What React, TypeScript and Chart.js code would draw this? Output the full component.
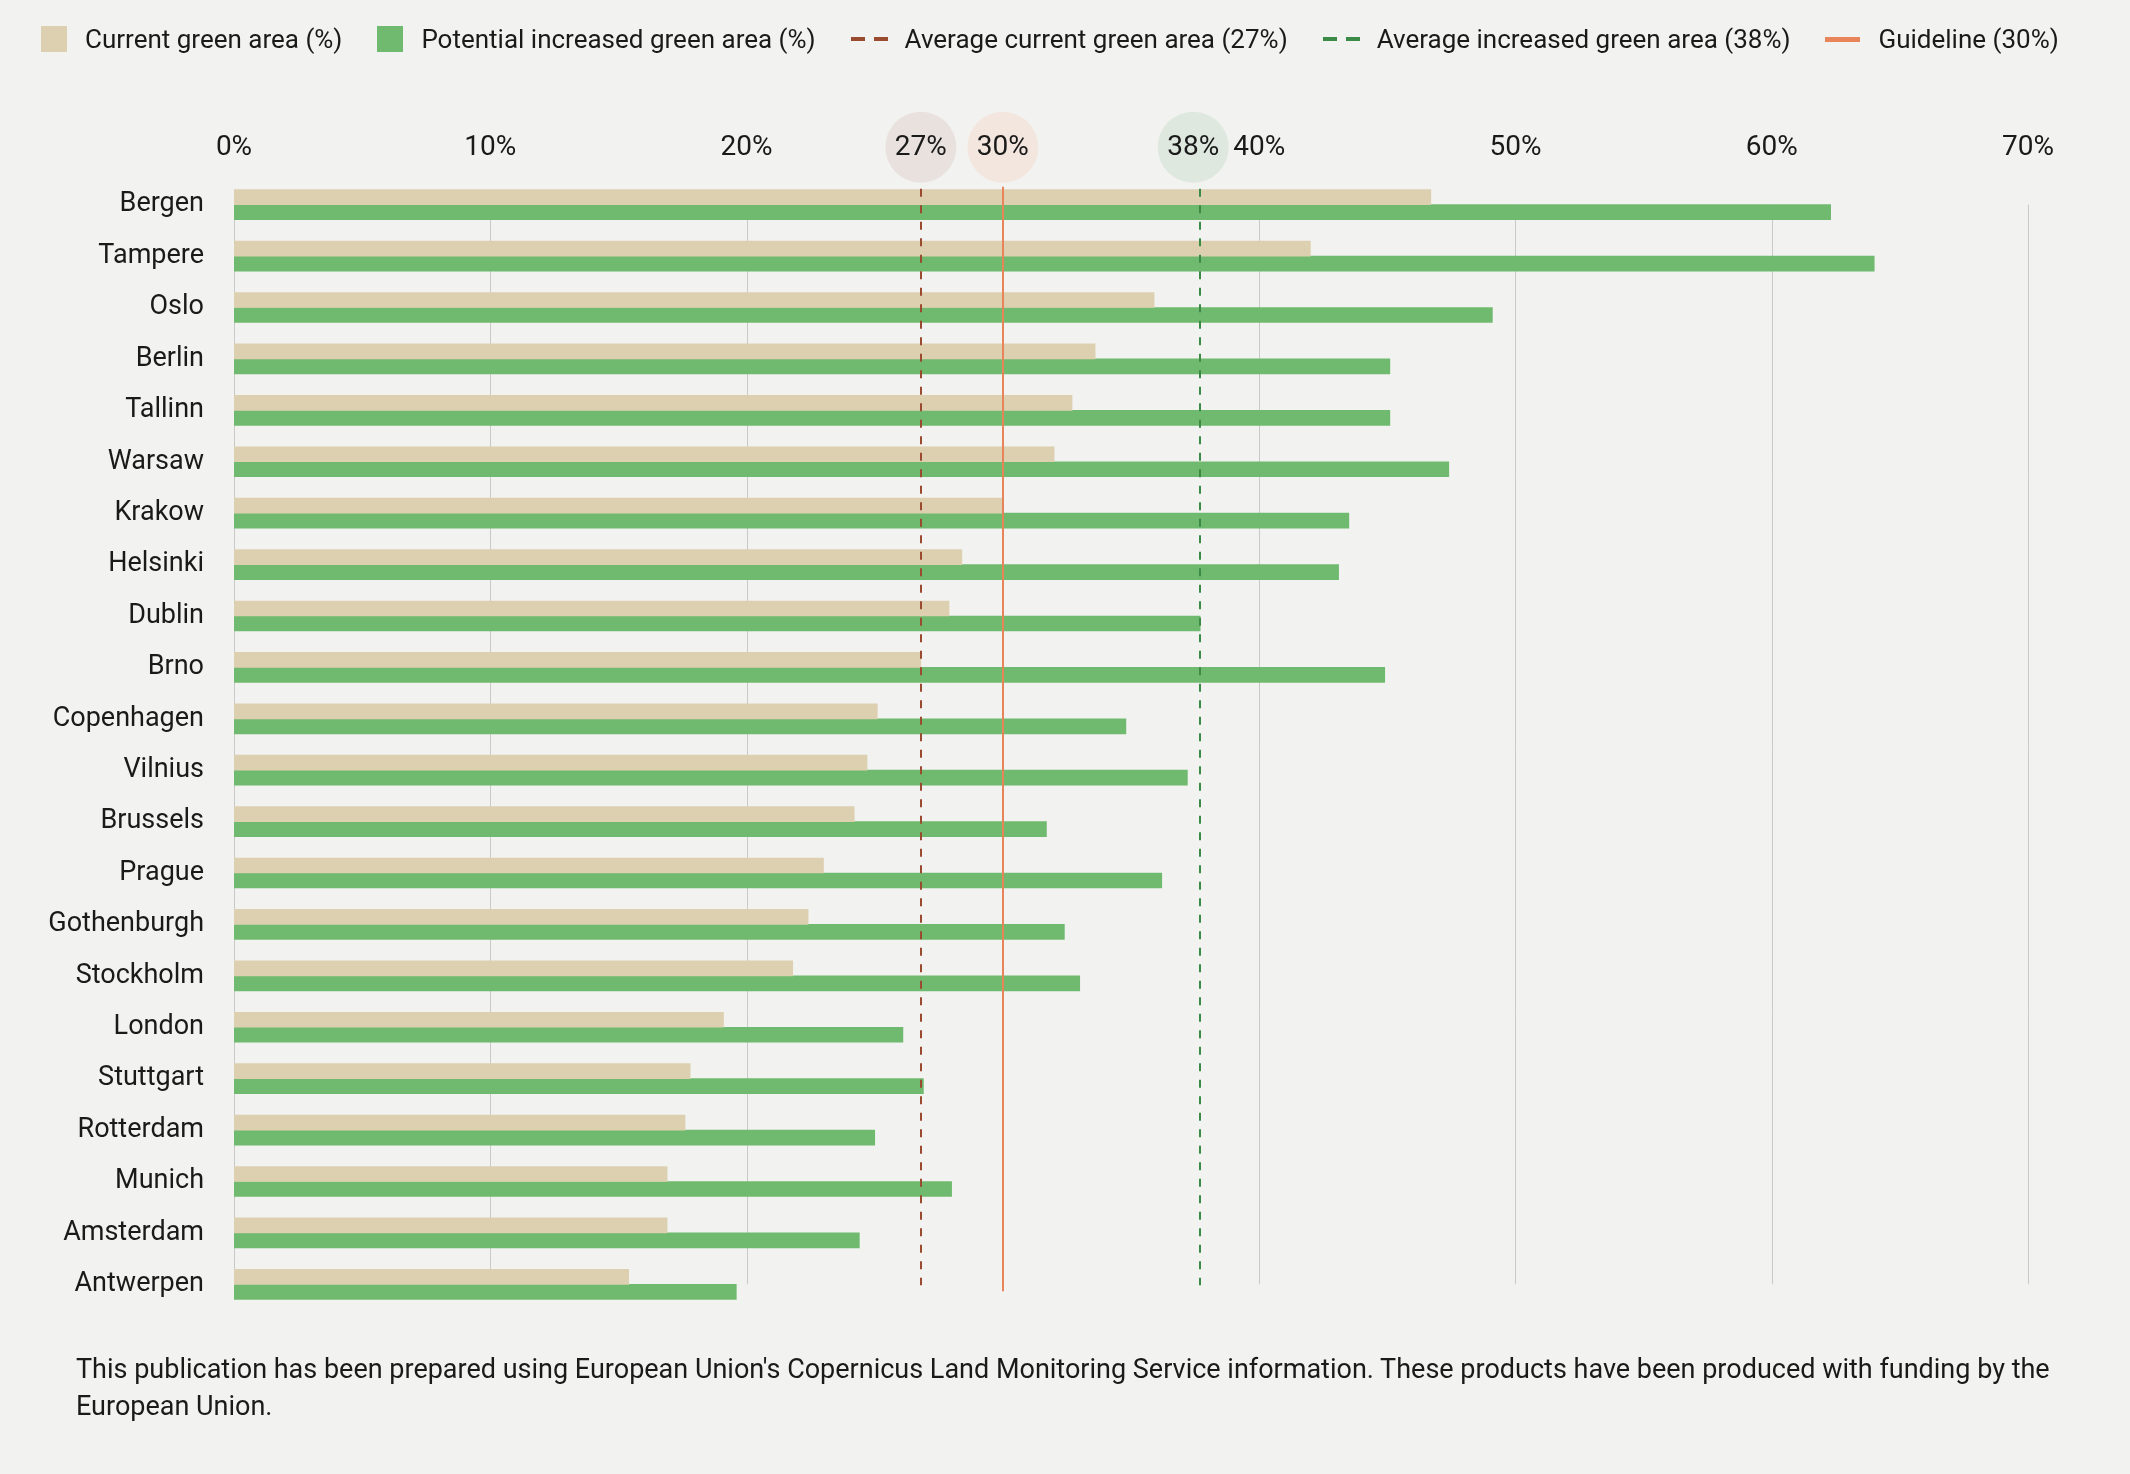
import { useEffect, useRef } from 'react'
import { Chart, registerables } from 'chart.js'

Chart.register(...registerables)

const cities = [
  'Bergen', 'Tampere', 'Oslo', 'Berlin', 'Tallinn', 'Warsaw', 'Krakow', 'Helsinki', 'Dublin', 'Brno', 'Copenhagen',
  'Vilnius', 'Brussels', 'Prague', 'Gothenburgh', 'Stockholm', 'London', 'Stuttgart', 'Rotterdam', 'Munich', 'Amsterdam', 'Antwerpen',
]
const currentGreen = [46.7, 42.0, 35.9, 33.6, 32.7, 32.0, 30.0, 28.4, 27.9, 26.8, 25.1, 24.7, 24.2, 23.0, 22.4, 21.8, 19.1, 17.8, 17.6, 16.9, 16.9, 15.4]
const increasedGreen = [62.3, 64.0, 49.1, 45.1, 45.1, 47.4, 43.5, 43.1, 37.7, 44.9, 34.8, 37.2, 31.7, 36.2, 32.4, 33.0, 26.1, 26.9, 25.0, 28.0, 24.4, 19.6]

const avgCurrent = 26.8
const avgIncreased = 37.7
const guideline = 30
const markerLabels = ['27%', '30%', '38%']

const BG = '#f2f2f0'
const BEIGE = '#ddd0b0'
const GREEN = '#6fba6e'
const BROWN = '#9a4a2e'
const DARK_GREEN = '#3b8a46'
const ORANGE = '#e8845a'
const TEXT = '#1a1a1a'
const FONT = 'Roboto, "Noto Sans", sans-serif'
const TICK_PAD = 14

const overlay = {
  id: 'overlay',
  beforeDatasetsDraw(chart: any) {
    const { ctx, scales } = chart
    const x = scales.x
    const y = scales.y
    const top = y.getPixelForValue(0)
    const bottom = y.getPixelForValue(cities.length - 1)
    ctx.save()
    ctx.strokeStyle = '#c9c9c7'
    ctx.lineWidth = 1
    x.ticks.forEach((t: any) => {
      const px = Math.round(x.getPixelForValue(t.value)) + 0.5
      ctx.beginPath()
      ctx.moveTo(px, top)
      ctx.lineTo(px, bottom)
      ctx.stroke()
    })
    ctx.restore()
  },
  afterDatasetsDraw(chart: any) {
    const { ctx, scales } = chart
    const x = scales.x
    const y = scales.y
    const first = y.getPixelForValue(0)
    const last = y.getPixelForValue(cities.length - 1)
    const lines = [
      { v: avgCurrent, color: BROWN, dash: [8, 8.5], top: first - 16, bottom: last + 1 },
      { v: avgIncreased, color: DARK_GREEN, dash: [8, 8.5], top: first - 16, bottom: last + 1 },
      { v: guideline, color: ORANGE, dash: [], top: first - 18, bottom: last + 7 },
    ]
    ctx.save()
    lines.forEach(l => {
      const px = Math.round(x.getPixelForValue(l.v))
      ctx.strokeStyle = l.color
      ctx.lineWidth = 2
      ctx.setLineDash(l.dash)
      ctx.beginPath()
      ctx.moveTo(px, l.top)
      ctx.lineTo(px, l.bottom)
      ctx.stroke()
    })
    ctx.restore()
  },
  afterDraw(chart: any) {
    const { ctx, scales } = chart
    const x = scales.x
    const cy = x.bottom - TICK_PAD - 0.6 * 28
    const marks = [
      { v: avgCurrent, fill: '#e8e1dd', shift: 0 },
      { v: guideline, fill: '#f3e6de', shift: 0 },
      { v: avgIncreased, fill: '#dee8de', shift: -7 },
    ]
    ctx.save()
    ctx.font = `28px ${FONT}`
    ctx.textAlign = 'center'
    ctx.textBaseline = 'middle'
    marks.forEach((m, i) => {
      const px = x.getPixelForValue(m.v) + m.shift
      ctx.fillStyle = m.fill
      ctx.beginPath()
      ctx.arc(px, cy - 1, 35.5, 0, Math.PI * 2)
      ctx.fill()
      ctx.fillStyle = TEXT
      ctx.fillText(markerLabels[i], px, cy)
    })
    ctx.restore()
  },
}

function LegendSquare({ color }: { color: string }) {
  return <span style={{ display: 'inline-block', width: 26, height: 26, background: color, marginRight: 18 }} />
}

function LegendDash({ color }: { color: string }) {
  return (
    <span style={{ display: 'inline-flex', width: 37, justifyContent: 'space-between', marginRight: 17 }}>
      <span style={{ width: 14, height: 4, background: color }} />
      <span style={{ width: 14, height: 4, background: color }} />
    </span>
  )
}

function LegendLine({ color }: { color: string }) {
  return <span style={{ display: 'inline-block', width: 35, height: 5, background: color, marginRight: 18 }} />
}

export default function App() {
  const canvasRef = useRef<HTMLCanvasElement>(null)

  useEffect(() => {
    document.body.style.background = BG
    if (!canvasRef.current) return
    Chart.defaults.font.family = FONT
    Chart.defaults.color = TEXT

    const chart = new Chart(canvasRef.current, {
      type: 'bar',
      data: {
        labels: cities,
        datasets: [
          { label: 'Current green area (%)', data: currentGreen, backgroundColor: BEIGE, barThickness: 15, borderWidth: 0 },
          { label: 'Potential increased green area (%)', data: increasedGreen, backgroundColor: GREEN, barThickness: 15, borderWidth: 0 },
        ],
      },
      options: {
        indexAxis: 'y',
        animation: false,
        responsive: true,
        maintainAspectRatio: false,
        layout: { padding: { top: 119, right: 102, bottom: 164, left: 0 } },
        plugins: { legend: { display: false }, tooltip: { enabled: false } },
        scales: {
          x: {
            position: 'top',
            min: 0,
            max: 70,
            grid: { display: false, drawTicks: false },
            border: { display: false },
            ticks: { stepSize: 10, padding: TICK_PAD, autoSkip: false, maxRotation: 0, font: { size: 28 }, color: TEXT, callback: v => `${v}%` },
            afterFit: (s: any) => { s.height = 60 },
          },
          y: {
            grid: { display: false, drawTicks: false },
            border: { display: false },
            ticks: { padding: 30, autoSkip: false, font: { size: 27 }, color: TEXT },
            afterFit: (s: any) => { s.width = 234 },
          },
        },
      },
      plugins: [overlay],
    })

    return () => chart.destroy()
  }, [])

  const legendText = { fontSize: 26, marginRight: 35, whiteSpace: 'nowrap' as const }

  return (
    <div style={{ position: 'absolute', left: 0, top: 0, width: 2130, height: 1474, background: BG, fontFamily: FONT, color: TEXT, overflow: 'hidden' }}>
      <div style={{ position: 'absolute', left: 0, top: 0, width: 2130, height: 1474 }}>
        <canvas ref={canvasRef} />
      </div>
      <div style={{ position: 'absolute', left: 41, top: 20, height: 38, display: 'flex', alignItems: 'center' }}>
        <LegendSquare color={BEIGE} />
        <span style={legendText}>Current green area (%)</span>
        <LegendSquare color={GREEN} />
        <span style={legendText}>Potential increased green area (%)</span>
        <LegendDash color={BROWN} />
        <span style={legendText}>Average current green area (27%)</span>
        <LegendDash color={DARK_GREEN} />
        <span style={legendText}>Average increased green area (38%)</span>
        <LegendLine color={ORANGE} />
        <span style={legendText}>Guideline (30%)</span>
      </div>
      <div style={{ position: 'absolute', left: 76, top: 1351, fontSize: 27, lineHeight: '37px', whiteSpace: 'nowrap' }}>
        This publication has been prepared using European Union's Copernicus Land Monitoring Service information. These products have been produced with funding by the
        <br />
        European Union.
      </div>
    </div>
  )
}
